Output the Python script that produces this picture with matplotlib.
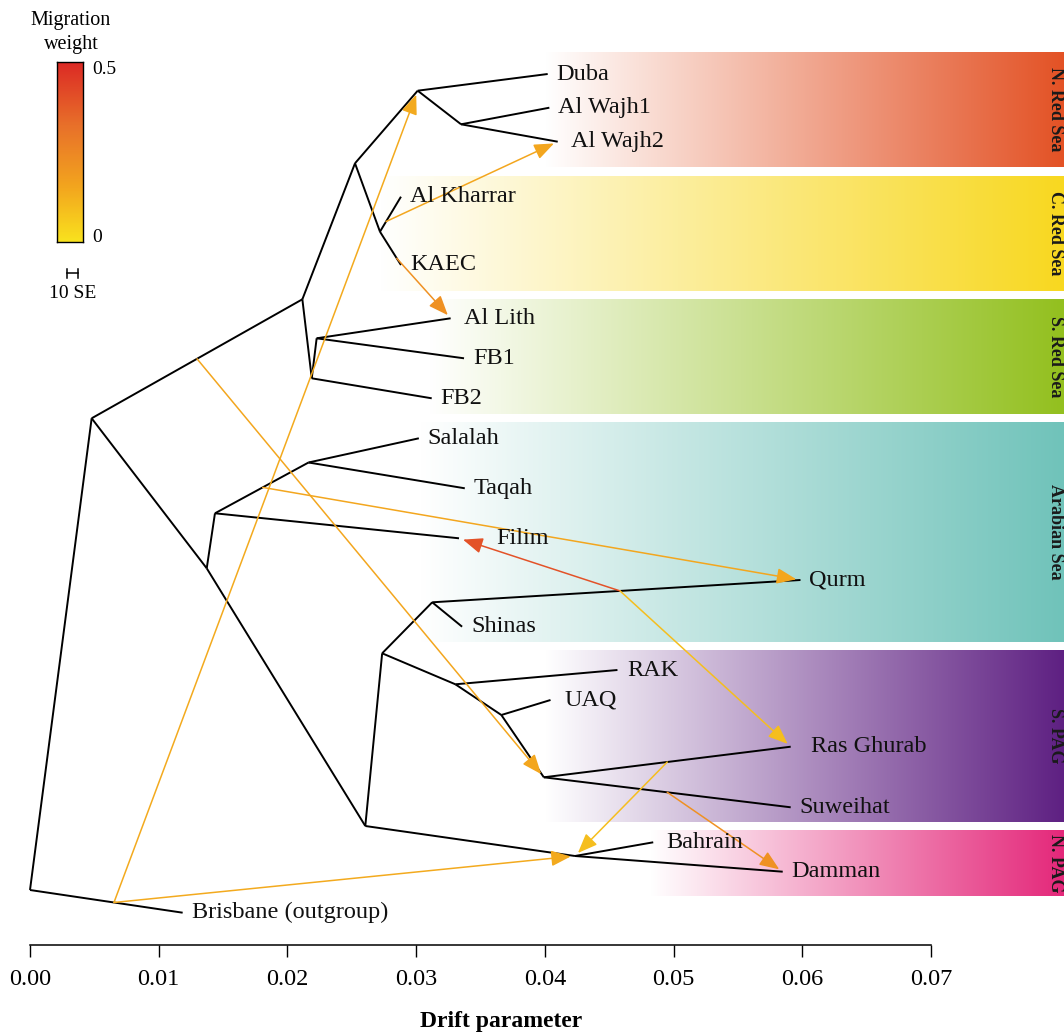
import numpy as np
import matplotlib
matplotlib.use("Agg")
import matplotlib.pyplot as plt
from matplotlib.colors import LinearSegmentedColormap, Normalize, to_rgb
from matplotlib.patches import FancyArrowPatch

plt.rcParams['font.family'] = ['Liberation Serif', 'DejaVu Serif']

# ---- tree: node drift (x) and vertical row position (top = 0) ----
node_names = ['root', 'A', 'B', 'P', 'Q', 'R', 'S', 'C', 'D', 'G', 'E', 'F',
              'M', 'I', 'H', 'J', 'K', 'L', 'N',
              'Duba', 'Al Wajh1', 'Al Wajh2', 'Al Kharrar', 'KAEC', 'Al Lith',
              'FB1', 'FB2', 'Salalah', 'Taqah', 'Filim', 'Qurm', 'Shinas',
              'RAK', 'UAQ', 'Ras Ghurab', 'Suweihat', 'Bahrain', 'Damman',
              'Brisbane']
node_drift = [0.00000, 0.00479, 0.02116, 0.02525, 0.03012, 0.03349, 0.02719,
              0.02189, 0.02227, 0.01373, 0.01437, 0.02164,
              0.02605, 0.02736, 0.03125, 0.03305, 0.03662, 0.03992, 0.04234,
              0.04022, 0.04035, 0.04100, 0.02882, 0.02882, 0.03268,
              0.03372, 0.03121, 0.03021, 0.03378, 0.03333, 0.05986, 0.03357,
              0.04564, 0.04044, 0.05910, 0.05910, 0.04842, 0.05848,
              0.01186]
node_ypos = [89.00, 41.83, 29.93, 16.33, 9.07, 12.43, 23.17, 37.83, 33.83,
             56.83, 51.33, 46.25,
             82.60, 65.33, 60.23, 68.43, 71.50, 77.73, 85.60,
             7.40, 10.77, 14.17, 19.67, 26.50, 31.83,
             35.83, 39.83, 43.83, 48.83, 53.83, 58.00, 62.67,
             67.00, 70.00, 74.67, 80.73, 84.23, 87.17,
             91.27]

edge_parent = ['root', 'root', 'A', 'A', 'B', 'B', 'P', 'P', 'Q', 'Q', 'R', 'R',
               'S', 'S', 'C', 'C', 'D', 'D', 'G', 'G', 'E', 'E', 'F', 'F',
               'M', 'M', 'I', 'I', 'H', 'H', 'J', 'J', 'K', 'K', 'L', 'L',
               'N', 'N']
edge_child = ['A', 'Brisbane', 'B', 'G', 'P', 'C', 'Q', 'S', 'Duba', 'R',
              'Al Wajh1', 'Al Wajh2', 'Al Kharrar', 'KAEC', 'D', 'FB2',
              'Al Lith', 'FB1', 'E', 'M', 'F', 'Filim', 'Salalah', 'Taqah',
              'I', 'N', 'H', 'J', 'Qurm', 'Shinas', 'RAK', 'K', 'UAQ', 'L',
              'Ras Ghurab', 'Suweihat', 'Bahrain', 'Damman']

leaf_names = ['Duba', 'Al Wajh1', 'Al Wajh2', 'Al Kharrar', 'KAEC', 'Al Lith',
              'FB1', 'FB2', 'Salalah', 'Taqah', 'Filim', 'Qurm', 'Shinas',
              'RAK', 'UAQ', 'Ras Ghurab', 'Suweihat', 'Bahrain', 'Damman',
              'Brisbane']
leaf_labels = leaf_names[:-1] + ['Brisbane (outgroup)']

# ---- migration edges: source branch (child end), fraction along it, target ----
mig_branch = ['Brisbane', 'Al Kharrar', 'KAEC', 'B', 'F', 'Qurm', 'Qurm',
              'Ras Ghurab', 'Suweihat', 'Brisbane']
mig_frac = [0.55, 0.29, 0.80, 0.50, 0.51, 0.51, 0.51, 0.50, 0.50, 0.55]
mig_target = ['Q', 'Al Wajh2', 'Al Lith', 'L', 'Qurm', 'Filim', 'Ras Ghurab',
              'N', 'Damman', 'N']
mig_weight = [0.14, 0.15, 0.22, 0.15, 0.15, 0.40, 0.09, 0.09, 0.22, 0.14]

# ---- geographic regions shaded behind the tips ----
regions = ['N. Red Sea', 'C. Red Sea', 'S. Red Sea', 'Arabian Sea', 'S. PAG', 'N. PAG']
region_colors = ['#E35225', '#F8D820', '#93C01F', '#70C3BA', '#5E2082', '#E4287A']
region_top = [5.2, 17.6, 29.9, 42.2, 65.0, 83.0]
region_bottom = [16.7, 29.1, 41.4, 64.2, 82.2, 89.6]
region_start = [0.0400, 0.0272, 0.0310, 0.0303, 0.0400, 0.0482]

pos = {n: (x, y) for n, x, y in zip(node_names, node_drift, node_ypos)}

mig_cmap = LinearSegmentedColormap.from_list(
    'mig', [(0.0, '#F9E21E'), (0.3, '#F3A61E'), (0.65, '#E8702A'), (1.0, '#DC2A25')])
mig_norm = Normalize(0, 0.5)

W, H = 1064, 1033
fig = plt.figure(figsize=(W / 100, H / 100), dpi=100)
ax = fig.add_axes([0, 88 / H, 1, 945 / H])

x_left, x_right = -30 / 12871.4, 1034 / 12871.4

# gradient bands
for name, col, top, bot, x0 in zip(regions, region_colors, region_top,
                                   region_bottom, region_start):
    c = np.array(to_rgb(col))
    t = np.linspace(0, 1, 256)[:, None]
    grad = (1 - t) * np.ones(3) + t * c
    ax.imshow(grad[None, :, :], extent=[x0, x_right, bot, top], aspect='auto',
              interpolation='bilinear', zorder=0)
    ax.text(x_right - 0.00068, (top + bot) / 2, name, rotation=270,
            ha='center', va='center', fontsize=13, fontweight='bold',
            color='#1a1a1a', zorder=5)

# tree branches
for p, c in zip(edge_parent, edge_child):
    (x0, y0), (x1, y1) = pos[p], pos[c]
    ax.plot([x0, x1], [y0, y1], color='black', lw=1.4, zorder=2,
            solid_capstyle='butt')

# migration arrows
for b, f, tgt, w in zip(mig_branch, mig_frac, mig_target, mig_weight):
    par = edge_parent[edge_child.index(b)]
    (xp, yp), (xc, yc) = pos[par], pos[b]
    src = (xp + f * (xc - xp), yp + f * (yc - yp))
    arr = FancyArrowPatch(src, pos[tgt],
                          arrowstyle='-|>,head_length=0.6,head_width=0.24',
                          mutation_scale=20, lw=1.1, color=mig_cmap(mig_norm(w)),
                          shrinkA=0, shrinkB=3, zorder=3)
    ax.add_patch(arr)

# tip labels
label_gap = {'Al Wajh2': 0.0010, 'Filim': 0.0029, 'Ras Ghurab': 0.0016,
             'Al Lith': 0.0010, 'UAQ': 0.0011, 'RAK': 0.0008, 'Bahrain': 0.0010}
for n, lab in zip(leaf_names, leaf_labels):
    x, y = pos[n]
    ax.text(x + label_gap.get(n, 0.0007), y, lab, fontsize=17.5, ha='left',
            va='center', color='#111111', zorder=4)

# 10 SE scale bar
se_x0, se_x1, se_y = 0.00287, 0.00373, 27.3
ax.plot([se_x0, se_x1], [se_y, se_y], color='black', lw=1.1)
ax.plot([se_x0, se_x0], [se_y - 0.45, se_y + 0.45], color='black', lw=1.1)
ax.plot([se_x1, se_x1], [se_y - 0.45, se_y + 0.45], color='black', lw=1.1)
ax.text((se_x0 + se_x1) / 2, 29.4, '10 SE', ha='center', va='center', fontsize=14)

ax.set_xlim(x_left, x_right)
ax.set_ylim(94.5, 0)
for s in ['top', 'left', 'right']:
    ax.spines[s].set_visible(False)
ax.spines['bottom'].set_bounds(0, 0.07)
ax.spines['bottom'].set_linewidth(1.1)
ticks = np.round(np.arange(0, 0.0701, 0.01), 2)
ax.set_xticks(ticks)
ax.set_xticklabels([f'{t:.2f}' for t in ticks], fontsize=17.5)
ax.tick_params(axis='x', length=8.5, width=1.0, pad=9)
ax.set_yticks([])
fig.text(501 / W, 1 - 1022 / H, 'Drift parameter', ha='center', va='center',
         fontsize=17, fontweight='bold')

# migration weight colour key
cax = fig.add_axes([57 / W, 1 - 242 / H, 26 / W, 180 / H])
cax.imshow(np.linspace(0, 0.5, 200)[:, None], cmap=mig_cmap, norm=mig_norm,
           aspect='auto', origin='lower', extent=[0, 1, 0, 0.5])
cax.set_xticks([])
cax.set_yticks([])
for s in cax.spines.values():
    s.set_linewidth(1.0)
fig.text(92 / W, 1 - 70 / H, '0.5', ha='left', va='center', fontsize=14)
fig.text(92 / W, 1 - 237 / H, '0', ha='left', va='center', fontsize=14)
fig.text(71 / W, 1 - 21 / H, 'Migration', ha='center', va='center', fontsize=14.5)
fig.text(71 / W, 1 - 45 / H, 'weight', ha='center', va='center', fontsize=14.5)

fig.savefig('out.png', dpi=100)
